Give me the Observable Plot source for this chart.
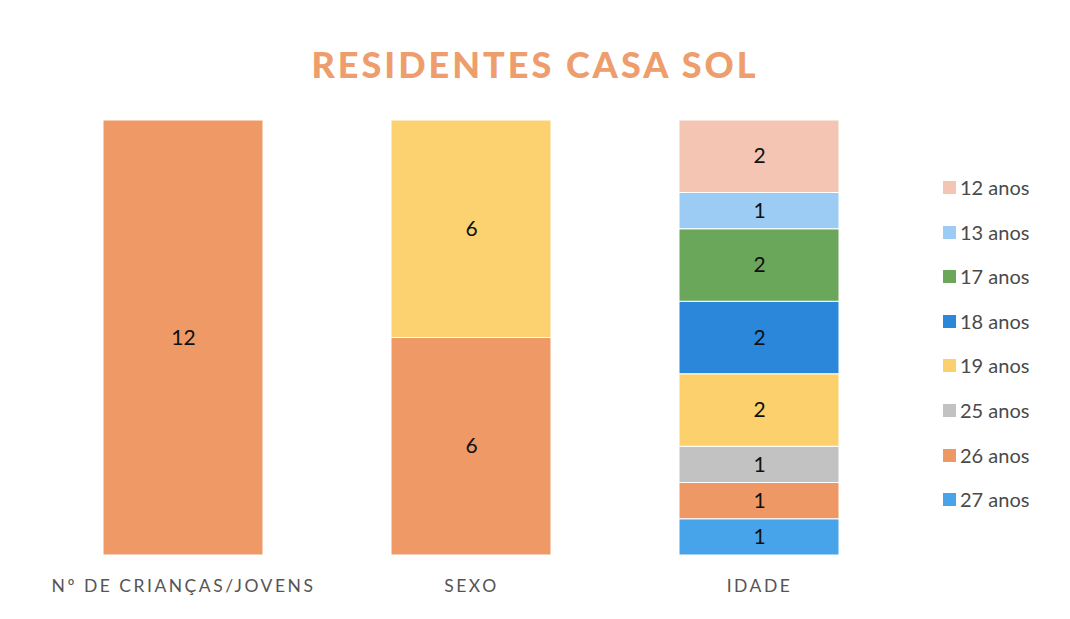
<!DOCTYPE html>
<html><head><meta charset="utf-8">
<script src="https://cdn.jsdelivr.net/npm/d3@7"></script>
<script src="https://cdn.jsdelivr.net/npm/@observablehq/plot@0.6"></script>
<style>
body{margin:0;background:#fff;font-family:Lato,"Open Sans",sans-serif;}
#wrap{position:relative;width:1070px;height:619px;}
#title{position:absolute;left:0;top:42px;width:1070px;text-align:center;font-size:36px;font-weight:900;color:#ee9d6c;letter-spacing:3px;}
#chart{position:absolute;left:0;top:110px;}
#legend{position:absolute;left:943px;top:175px;font-size:20px;color:#4a4a4a;}
.li{height:44.6px;display:flex;align-items:flex-start;}
.sw{width:13px;height:13px;margin-top:6px;margin-right:4px;}
.xax text{letter-spacing:2.5px;}
</style></head>
<body><div id="wrap"><div id="title">RESIDENTES CASA SOL</div><div id="chart"></div><div id="legend"></div></div>
<script>
const categories = ["Nº DE CRIANÇAS/JOVENS", "SEXO", "IDADE"];
// stacked from bottom to top
const totalSeries = ["Total"];
const totalValues = [12];
const sexoSeries = ["Masculino", "Feminino"];
const sexoValues = [6, 6];
const idadeSeries = ["27 anos", "26 anos", "25 anos", "19 anos", "18 anos", "17 anos", "13 anos", "12 anos"];
const idadeValues = [1, 1, 1, 2, 2, 2, 1, 2];
const seriesKeys = ["Total", "Masculino", "Feminino", "12 anos", "13 anos", "17 anos", "18 anos", "19 anos", "25 anos", "26 anos", "27 anos"];
const seriesColors = ["#ee9966", "#ee9966", "#fbd26f", "#f4c5b2", "#9ccbf4", "#6ba75a", "#2b87d9", "#fcd06c", "#c2c2c2", "#ee9865", "#48a4ea"];
const legendSeries = ["12 anos", "13 anos", "17 anos", "18 anos", "19 anos", "25 anos", "26 anos", "27 anos"];

const data = [];
totalSeries.forEach((s, i) => data.push({cat: categories[0], series: s, value: totalValues[i]}));
sexoSeries.forEach((s, i) => data.push({cat: categories[1], series: s, value: sexoValues[i]}));
idadeSeries.forEach((s, i) => data.push({cat: categories[2], series: s, value: idadeValues[i]}));

const plot = Plot.plot({
  width: 870, height: 495,
  marginLeft: 74, marginRight: 2, marginTop: 10, marginBottom: 50,
  style: {fontFamily: "Lato, 'Open Sans', sans-serif", background: "transparent"},
  x: {domain: categories, paddingInner: 0.444, paddingOuter: 0.1, label: null},
  y: {domain: [0, 12], axis: null},
  color: {domain: seriesKeys, range: seriesColors},
  marks: [
    Plot.barY(data, Plot.stackY({x: "cat", y: "value", z: "series", fill: "series", order: null, stroke: "#fff", strokeWidth: 1})),
    Plot.text(data, Plot.stackY({x: "cat", y: "value", z: "series", text: "value", order: null, fontSize: 21, fill: "#111"})),
    Plot.axisX({tickSize: 0, tickPadding: 24, fontSize: 17.5, fill: "#555", className: "xax"})
  ]
});
document.getElementById("chart").appendChild(plot);

const color = d3.scaleOrdinal(seriesKeys, seriesColors);
const lg = document.getElementById("legend");
legendSeries.forEach(s => {
  const row = document.createElement("div");
  row.className = "li";
  const sw = document.createElement("div");
  sw.className = "sw";
  sw.style.background = color(s);
  const t = document.createElement("span");
  t.textContent = s;
  row.appendChild(sw); row.appendChild(t);
  lg.appendChild(row);
});
</script></body></html>
